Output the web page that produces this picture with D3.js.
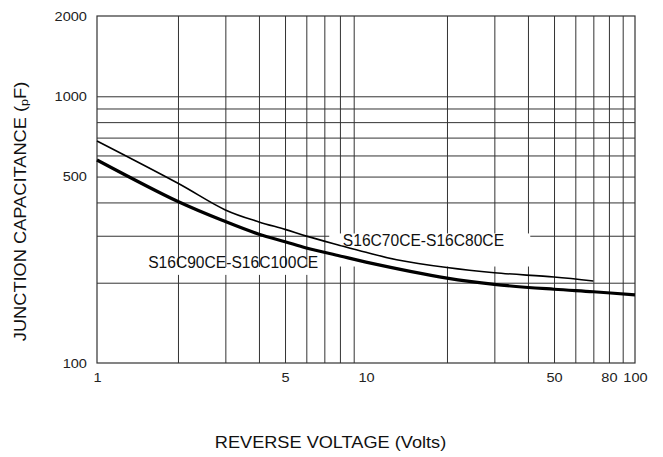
<!DOCTYPE html>
<html>
<head>
<meta charset="utf-8">
<script src="https://cdn.jsdelivr.net/npm/d3@7"></script>
<style>
body { margin: 0; background: #fff; }
svg { display: block; font-family: "Liberation Sans", Arial, sans-serif; }
</style>
</head>
<body>
<main></main>
<script>
const width = 663;
const height = 457;
const plotLeft = 97, plotRight = 635, plotTop = 16, plotBottom = 363;

// axes
const xDomain = [1, 100];
const yDomain = [100, 2000];
const xGrid = [2, 3, 4, 5, 6, 7, 8, 9, 20, 30, 40, 50, 60, 70, 80, 90];
const xLabels = [1, 5, 10, 50, 80, 100];
const yGrid = [200, 300, 400, 500, 600, 700, 800, 900, 1000];
const yLabels = [100, 500, 1000, 2000];

// S16C70CE-S16C80CE (thin)
const voltsA = [1, 2, 3, 4, 5, 6, 8, 10, 13, 20, 30, 50, 70];
const capA = [680, 472, 375, 338, 317, 299, 276, 260, 244, 228, 218, 210, 203];
// S16C90CE-S16C100CE (thick)
const voltsB = [1, 2, 3, 4, 5, 6, 8, 10, 20, 30, 50, 70, 100];
const capB = [577, 403, 339, 304, 285, 270, 252, 239, 208, 197, 189, 185, 180];

const seriesNames = ['S16C70CE-S16C80CE', 'S16C90CE-S16C100CE'];

const xScale = d3.scaleLog().domain(xDomain).range([plotLeft, plotRight]);
const yScale = d3.scaleLog().domain(yDomain).range([plotBottom, plotTop]);

const svg = d3.select('main')
              .append('svg')
              .attr('width', width)
              .attr('height', height);

const gridColor = '#333';

const drawGrid = () => {
    const gx = svg.append('g')
       .attr('transform', `translate(0, ${plotBottom})`)
       .call(d3.axisBottom(xScale).tickValues(xGrid).tickSize(-(plotBottom - plotTop)).tickFormat(''));
    const gy = svg.append('g')
       .attr('transform', `translate(${plotLeft}, 0)`)
       .call(d3.axisLeft(yScale).tickValues(yGrid).tickSize(-(plotRight - plotLeft)).tickFormat(''));
    [gx, gy].forEach(g => {
        g.select('.domain').remove();
        g.selectAll('line').attr('stroke', gridColor).attr('stroke-width', 1);
    });

    svg.append('rect')
       .attr('x', xScale(xDomain[0]))
       .attr('y', yScale(yDomain[1]))
       .attr('width', xScale(xDomain[1]) - xScale(xDomain[0]))
       .attr('height', yScale(yDomain[0]) - yScale(yDomain[1]))
       .attr('fill', 'none')
       .attr('stroke', gridColor)
       .attr('stroke-width', 1.2);
};

const drawTickLabels = () => {
    const ax = svg.append('g')
       .attr('transform', `translate(0, ${plotBottom})`)
       .call(d3.axisBottom(xScale).tickValues(xLabels).tickSize(0).tickPadding(10).tickFormat(d3.format('d')));
    const ay = svg.append('g')
       .attr('transform', `translate(${plotLeft}, 0)`)
       .call(d3.axisLeft(yScale).tickValues(yLabels).tickSize(0).tickPadding(9).tickFormat(d3.format('d')));
    [ax, ay].forEach(g => {
        g.select('.domain').remove();
        g.selectAll('text')
         .attr('font-family', '"Liberation Sans", Arial, sans-serif')
         .attr('font-size', 13)
         .attr('fill', '#222')
         .attr('transform', 'scale(1.12,1)');
    });
};

const drawLabels = () => {
    // white boxes behind curve labels
    const boxes = [
        {v: 7.3, c: 306, v2: 40.8, c2: 230},
        {v: 1.52, c: 229, v2: 6.2, c2: 214}
    ];
    svg.selectAll('.box')
       .data(boxes)
       .enter()
       .append('rect')
       .attr('class', 'box')
       .attr('x', d => xScale(d.v))
       .attr('y', d => yScale(d.c))
       .attr('width', d => xScale(d.v2) - xScale(d.v))
       .attr('height', d => yScale(d.c2) - yScale(d.c))
       .attr('fill', '#fff');

    const anchors = [[8.2, 274.5], [1.55, 228]];
    svg.selectAll('.curve-label')
       .data(seriesNames)
       .enter()
       .append('text')
       .attr('class', 'curve-label')
       .attr('x', (d, i) => xScale(anchors[i][0]))
       .attr('y', (d, i) => yScale(anchors[i][1]))
       .attr('font-size', 15.6)
       .attr('fill', '#111')
       .text(d => d);
};

const drawCurves = () => {
    const line = d3.line()
                   .x(d => xScale(d.v))
                   .y(d => yScale(d.c))
                   .curve(d3.curveCatmullRom.alpha(0.5));
    const series = [
        {pts: voltsA.map((v, i) => ({v, c: capA[i]})), w: 1.6},
        {pts: voltsB.map((v, i) => ({v, c: capB[i]})), w: 3.2}
    ];
    svg.selectAll('.curve')
       .data(series)
       .enter()
       .append('path')
       .attr('class', 'curve')
       .attr('d', d => line(d.pts))
       .attr('fill', 'none')
       .attr('stroke', '#000')
       .attr('stroke-width', d => d.w)
       .attr('stroke-linejoin', 'round');
};

const drawTitles = () => {
    svg.append('text')
       .attr('transform', 'translate(330.5, 448) scale(1.135,1)')
       .attr('text-anchor', 'middle')
       .attr('font-size', 16)
       .attr('fill', '#111')
       .text('REVERSE VOLTAGE (Volts)');

    const yt = svg.append('text')
       .attr('transform', 'translate(26, 211.5) rotate(-90) scale(1.14,1)')
       .attr('text-anchor', 'middle')
       .attr('font-size', 16)
       .attr('fill', '#111');
    yt.append('tspan').text('JUNCTION CAPACITANCE (');
    yt.append('tspan').attr('font-size', 11).attr('dy', 2).text('p');
    yt.append('tspan').attr('dy', -2).text('F)');
};

drawGrid();
drawLabels();
drawCurves();
drawTickLabels();
drawTitles();
</script>
</body>
</html>
